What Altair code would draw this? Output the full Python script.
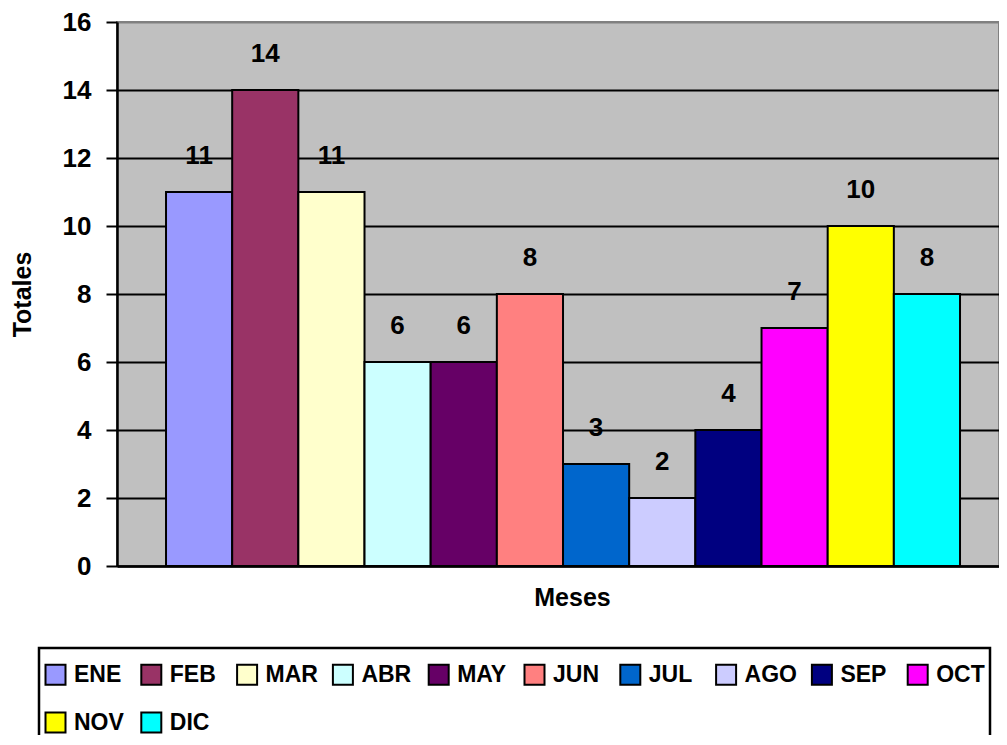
import altair as alt
import pandas as pd

meses = ["ENE", "FEB", "MAR", "ABR", "MAY", "JUN", "JUL", "AGO", "SEP", "OCT", "NOV", "DIC"]
totales = [11, 14, 11, 6, 6, 8, 3, 2, 4, 7, 10, 8]
colores = ["#9999FF", "#993366", "#FFFFCC", "#CCFFFF", "#660066", "#FF8080",
           "#0066CC", "#CCCCFF", "#000080", "#FF00FF", "#FFFF00", "#00FFFF"]

df = pd.DataFrame({"Mes": meses, "Total": totales})
FONT = "Liberation Sans"

x_enc = alt.X("Mes:N", sort=meses,
              scale=alt.Scale(paddingInner=0, paddingOuter=0.665, align=0.557),
              axis=alt.Axis(title="Meses", labels=False, ticks=False, domain=True,
                            domainColor="black", domainWidth=2.5,
                            titleFont=FONT, titleFontSize=25, titleFontWeight="bold",
                            titleColor="black", titleX=455, titleY=31,
                            titleBaseline="middle", titleAlign="center"))
y_enc = alt.Y("Total:Q", scale=alt.Scale(domain=[0, 16], nice=False),
              axis=alt.Axis(title="Totales", values=list(range(0, 17, 2)),
                            grid=True,
                            gridColor=alt.condition("datum.value == 16", alt.value("#808080"), alt.value("black")),
                            gridWidth=2,
                            domain=True, domainColor="black", domainWidth=2.5,
                            ticks=True, tickColor="black", tickWidth=2, tickSize=11,
                            labelPadding=15, labelFont=FONT, labelFontSize=26,
                            labelFontWeight="bold", labelColor="black",
                            titleFont=FONT, titleFontSize=25, titleFontWeight="bold",
                            titleColor="black", titleAngle=270, titleX=-95, titleY=272,
                            titleAlign="center", titleBaseline="middle"))

bars = alt.Chart(df).mark_bar(stroke="black", strokeWidth=2).encode(
    x=x_enc,
    y=y_enc,
    color=alt.Color("Mes:N", sort=meses,
                    scale=alt.Scale(domain=meses, range=colores),
                    legend=alt.Legend(title=" ", titleFontSize=1, titlePadding=9,
                                      orient="none", legendX=-78, legendY=626,
                                      direction="horizontal", columns=10, gridAlign="all",
                                      columnPadding=9.8, rowPadding=19, padding=5,
                                      symbolType="square", symbolSize=400,
                                      symbolStrokeColor="black", symbolStrokeWidth=2,
                                      labelFont=FONT, labelFontSize=23, labelFontWeight="bold",
                                      labelColor="black", labelOffset=7,
                                      strokeColor="black")),
)

labels = alt.Chart(df).mark_text(dy=-36, baseline="middle", align="center",
                                 font=FONT, fontSize=26, fontWeight="bold", color="black").encode(
    x=alt.X("Mes:N", sort=meses),
    y=alt.Y("Total:Q"),
    text="Total:Q",
)

chart = (bars + labels).properties(
    width=882, height=544,
    autosize=alt.AutoSizeParams(type="none"),
    padding={"left": 109, "top": 14, "right": 0, "bottom": 169},
    background="white",
).configure_view(
    fill="#C0C0C0", stroke="#808080", strokeWidth=2
).configure_legend(
    strokeWidth=2.5, symbolStrokeColor="black"
)

chart.save("out.html", embed_options={"renderer": "svg", "actions": False})
